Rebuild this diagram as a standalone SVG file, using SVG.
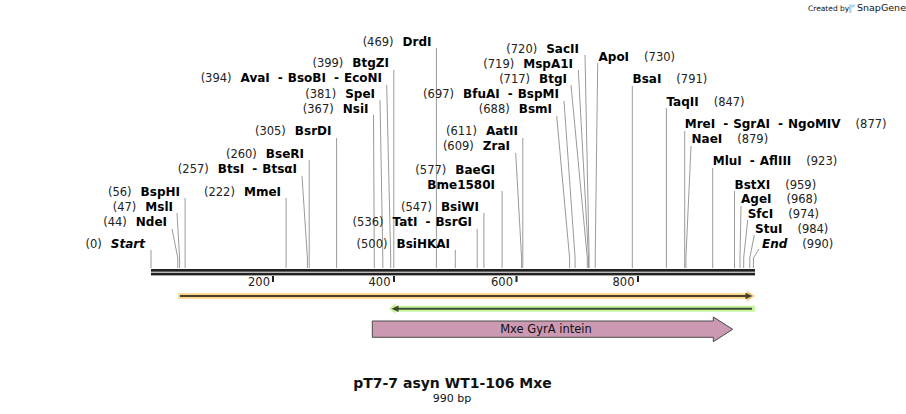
<svg xmlns="http://www.w3.org/2000/svg" width="906" height="414" viewBox="0 0 906 414">
<style>
text { font-family: "DejaVu Sans", Verdana, sans-serif; fill:#111; }
.num { font-size:11.5px; font-weight:normal; fill:#222; }
.nm { font-size:12px; font-weight:bold; fill:#000; }
.it { font-style:italic; }
.cut { stroke:#9a9a9a; stroke-width:1; fill:none; }
.tick { fill:#222; }
.tl { font-size:11.5px; fill:#222; }
</style>
<rect width="906" height="414" fill="#fff"/>

<!-- connectors -->
<g id="connectors">
<path class="cut" d="M151 250V268"/>
<path class="cut" d="M172 229L177.8 258V268"/>
<path class="cut" d="M177 213L179.6 258V268"/>
<path class="cut" d="M185.1 198V268"/>
<path class="cut" d="M286.1 198V268"/>
<path class="cut" d="M302 176L307.4 258V268"/>
<path class="cut" d="M309.2 160V268"/>
<path class="cut" d="M336.6 138V268"/>
<path class="cut" d="M373.5 115L374.3 258V268"/>
<path class="cut" d="M380 100L382.8 258V268"/>
<path class="cut" d="M386.7 85L390.7 258V268"/>
<path class="cut" d="M393.8 70V268"/>
<path class="cut" d="M436.4 48V268"/>
<path class="cut" d="M455.3 250V268"/>
<path class="cut" d="M477.2 229V268"/>
<path class="cut" d="M483.9 213V268"/>
<path class="cut" d="M502.1 191V268"/>
<path class="cut" d="M515.7 153L521.6 258V268"/>
<path class="cut" d="M522.8 138V268"/>
<path class="cut" d="M556.7 116L569.6 258V268"/>
<path class="cut" d="M564 101L575.1 258V268"/>
<path class="cut" d="M571 85L587.3 258V268"/>
<path class="cut" d="M578.3 70L588.5 258V268"/>
<path class="cut" d="M585 55L589.1 258V268"/>
<path class="cut" d="M597.7 63L595.2 258V268"/>
<path class="cut" d="M632.3 86V268"/>
<path class="cut" d="M666.4 108V268"/>
<path class="cut" d="M684.7 131V268"/>
<path class="cut" d="M691 146L685.9 258V268"/>
<path class="cut" d="M712.7 168V268"/>
<path class="cut" d="M734.5 191V268"/>
<path class="cut" d="M741 206L740 258V268"/>
<path class="cut" d="M747.7 220L743.7 258V268"/>
<path class="cut" d="M754.3 235L749.8 258V268"/>
<path class="cut" d="M759 249L753.4 258V268"/>
</g>

<!-- ruler -->
<g id="ruler">
<rect x="151" y="269" width="604" height="2.7" fill="#222"/>
<rect x="151" y="272.7" width="604" height="2.7" fill="#222"/>
<rect class="tick" x="272" y="276" width="2" height="6"/>
<rect class="tick" x="393" y="276" width="2" height="6"/>
<rect class="tick" x="515.5" y="276" width="2" height="6"/>
<rect class="tick" x="637" y="276" width="2" height="6"/>
<text class="tl" x="270" y="286" text-anchor="end">200</text>
<text class="tl" x="390.5" y="286" text-anchor="end">400</text>
<text class="tl" x="513" y="286" text-anchor="end">600</text>
<text class="tl" x="634.5" y="286" text-anchor="end">800</text>
</g>

<!-- left labels -->
<g id="site-Start"><text x="145" y="248" text-anchor="end"><tspan class="num">(0)</tspan><tspan class="nm it" dx="9">Start</tspan></text></g>
<g id="site-NdeI"><text x="167" y="226" text-anchor="end"><tspan class="num">(44)</tspan><tspan class="nm" dx="9">NdeI</tspan></text></g>
<g id="site-MslI"><text x="173" y="211" text-anchor="end"><tspan class="num">(47)</tspan><tspan class="nm" dx="9">MslI</tspan></text></g>
<g id="site-BspHI"><text x="180" y="196" text-anchor="end"><tspan class="num">(56)</tspan><tspan class="nm" dx="9">BspHI</tspan></text></g>
<g id="site-MmeI"><text x="281" y="196" text-anchor="end"><tspan class="num">(222)</tspan><tspan class="nm" dx="9">MmeI</tspan></text></g>
<g id="site-BtsI"><text x="297" y="173" text-anchor="end"><tspan class="num">(257)</tspan><tspan class="nm" dx="9">BtsI</tspan><tspan class="nm" dx="8">-</tspan><tspan class="nm" dx="5">BtsαI</tspan></text></g>
<g id="site-BseRI"><text x="304" y="158" text-anchor="end"><tspan class="num">(260)</tspan><tspan class="nm" dx="9">BseRI</tspan></text></g>
<g id="site-BsrDI"><text x="331.5" y="135" text-anchor="end"><tspan class="num">(305)</tspan><tspan class="nm" dx="9">BsrDI</tspan></text></g>
<g id="site-NsiI"><text x="368.5" y="113" text-anchor="end"><tspan class="num">(367)</tspan><tspan class="nm" dx="9">NsiI</tspan></text></g>
<g id="site-SpeI"><text x="375" y="98" text-anchor="end"><tspan class="num">(381)</tspan><tspan class="nm" dx="9">SpeI</tspan></text></g>
<g id="site-AvaI"><text x="382" y="82" text-anchor="end"><tspan class="num">(394)</tspan><tspan class="nm" dx="9">AvaI</tspan><tspan class="nm" dx="8">-</tspan><tspan class="nm" dx="5">BsoBI</tspan><tspan class="nm" dx="8">-</tspan><tspan class="nm" dx="5">EcoNI</tspan></text></g>
<g id="site-BtgZI"><text x="389" y="67" text-anchor="end"><tspan class="num">(399)</tspan><tspan class="nm" dx="9">BtgZI</tspan></text></g>
<g id="site-DrdI"><text x="431.5" y="46" text-anchor="end"><tspan class="num">(469)</tspan><tspan class="nm" dx="9">DrdI</tspan></text></g>
<g id="site-BsiHKAI"><text x="450" y="248" text-anchor="end"><tspan class="num">(500)</tspan><tspan class="nm" dx="9">BsiHKAI</tspan></text></g>
<g id="site-TatI"><text x="472" y="226" text-anchor="end"><tspan class="num">(536)</tspan><tspan class="nm" dx="9">TatI</tspan><tspan class="nm" dx="8">-</tspan><tspan class="nm" dx="5">BsrGI</tspan></text></g>
<g id="site-BsiWI"><text x="479" y="211" text-anchor="end"><tspan class="num">(547)</tspan><tspan class="nm" dx="9">BsiWI</tspan></text></g>
<g id="site-BaeGI"><text x="495" y="174" text-anchor="end"><tspan class="num">(577)</tspan><tspan class="nm" dx="9">BaeGI</tspan></text><text class="nm" x="495" y="189" text-anchor="end">Bme1580I</text></g>
<g id="site-ZraI"><text x="510" y="150" text-anchor="end"><tspan class="num">(609)</tspan><tspan class="nm" dx="9">ZraI</tspan></text></g>
<g id="site-AatII"><text x="518" y="135" text-anchor="end"><tspan class="num">(611)</tspan><tspan class="nm" dx="9">AatII</tspan></text></g>
<g id="site-BsmI"><text x="552" y="113" text-anchor="end"><tspan class="num">(688)</tspan><tspan class="nm" dx="9">BsmI</tspan></text></g>
<g id="site-BfuAI"><text x="559" y="98" text-anchor="end"><tspan class="num">(697)</tspan><tspan class="nm" dx="9">BfuAI</tspan><tspan class="nm" dx="8">-</tspan><tspan class="nm" dx="5">BspMI</tspan></text></g>
<g id="site-BtgI"><text x="567" y="83" text-anchor="end"><tspan class="num">(717)</tspan><tspan class="nm" dx="9">BtgI</tspan></text></g>
<g id="site-MspA1I"><text x="573" y="68" text-anchor="end"><tspan class="num">(719)</tspan><tspan class="nm" dx="9">MspA1I</tspan></text></g>
<g id="site-SacII"><text x="579" y="53" text-anchor="end"><tspan class="num">(720)</tspan><tspan class="nm" dx="9">SacII</tspan></text></g>

<!-- right labels -->
<g id="site-ApoI"><text x="598.5" y="61"><tspan class="nm">ApoI</tspan><tspan class="num" dx="15">(730)</tspan></text></g>
<g id="site-BsaI"><text x="632.5" y="83"><tspan class="nm">BsaI</tspan><tspan class="num" dx="15">(791)</tspan></text></g>
<g id="site-TaqII"><text x="666.4" y="106"><tspan class="nm">TaqII</tspan><tspan class="num" dx="15">(847)</tspan></text></g>
<g id="site-MreI"><text x="684.7" y="128"><tspan class="nm">MreI</tspan><tspan class="nm" dx="8">-</tspan><tspan class="nm" dx="5">SgrAI</tspan><tspan class="nm" dx="8">-</tspan><tspan class="nm" dx="5">NgoMIV</tspan><tspan class="num" dx="15">(877)</tspan></text></g>
<g id="site-NaeI"><text x="691.5" y="143"><tspan class="nm">NaeI</tspan><tspan class="num" dx="15">(879)</tspan></text></g>
<g id="site-MluI"><text x="712.7" y="165"><tspan class="nm">MluI</tspan><tspan class="nm" dx="8">-</tspan><tspan class="nm" dx="5">AflIII</tspan><tspan class="num" dx="15">(923)</tspan></text></g>
<g id="site-BstXI"><text x="734.5" y="189"><tspan class="nm">BstXI</tspan><tspan class="num" dx="15">(959)</tspan></text></g>
<g id="site-AgeI"><text x="741" y="203"><tspan class="nm">AgeI</tspan><tspan class="num" dx="15">(968)</tspan></text></g>
<g id="site-SfcI"><text x="747.7" y="218"><tspan class="nm">SfcI</tspan><tspan class="num" dx="15">(974)</tspan></text></g>
<g id="site-StuI"><text x="755" y="233"><tspan class="nm">StuI</tspan><tspan class="num" dx="15">(984)</tspan></text></g>
<g id="site-End"><text x="762" y="248"><tspan class="nm it">End</tspan><tspan class="num" dx="15">(990)</tspan></text></g>

<!-- features -->
<g id="feature-orange">
<path d="M178.3 293.3H746.7V290.5L755 296L746.7 301.5V298.7H178.3Z" fill="#fdd27f"/>
<path d="M180 296H747" stroke="#4a4030" stroke-width="2"/>
<path d="M752.5 296L745.5 292.8V299.2Z" fill="#4a4030"/>
</g>
<g id="feature-green">
<path d="M755 305.7H395.7V303.3L389 308.7L395.7 314V311.7H755Z" fill="#c6f59e"/>
<path d="M397 308.7H752" stroke="#3e4a36" stroke-width="2"/>
<path d="M391.5 308.7L398.5 305.5V311.9Z" fill="#3e4a36"/>
</g>
<g id="feature-Mxe">
<path d="M372.3 321H713.3V317L732.7 329.3L713.3 341.7V337.3H372.3Z" fill="#cc99b3" stroke="#4a4a4a" stroke-width="1"/>
<text x="546" y="333" text-anchor="middle" font-size="11.5" fill="#111">Mxe GyrA intein</text>
</g>

<!-- title -->
<g id="title">
<text x="452.5" y="388" text-anchor="middle" font-size="14" font-weight="bold" fill="#111">pT7-7 asyn WT1-106 Mxe</text>
<text x="452" y="402" text-anchor="middle" font-size="11" fill="#222">990 bp</text>
</g>

<!-- watermark -->
<g id="watermark">
<text x="808" y="10.5" font-size="7.5" fill="#c4c4c4">Created by</text>
<path d="M849 4.5h6.5l-1.5 3h-2.5v5.5h-2.5z" fill="#a9d9f3"/>
<text x="857" y="11" font-size="9.5" fill="#b4b4b4">SnapGene</text>
</g>
</svg>
